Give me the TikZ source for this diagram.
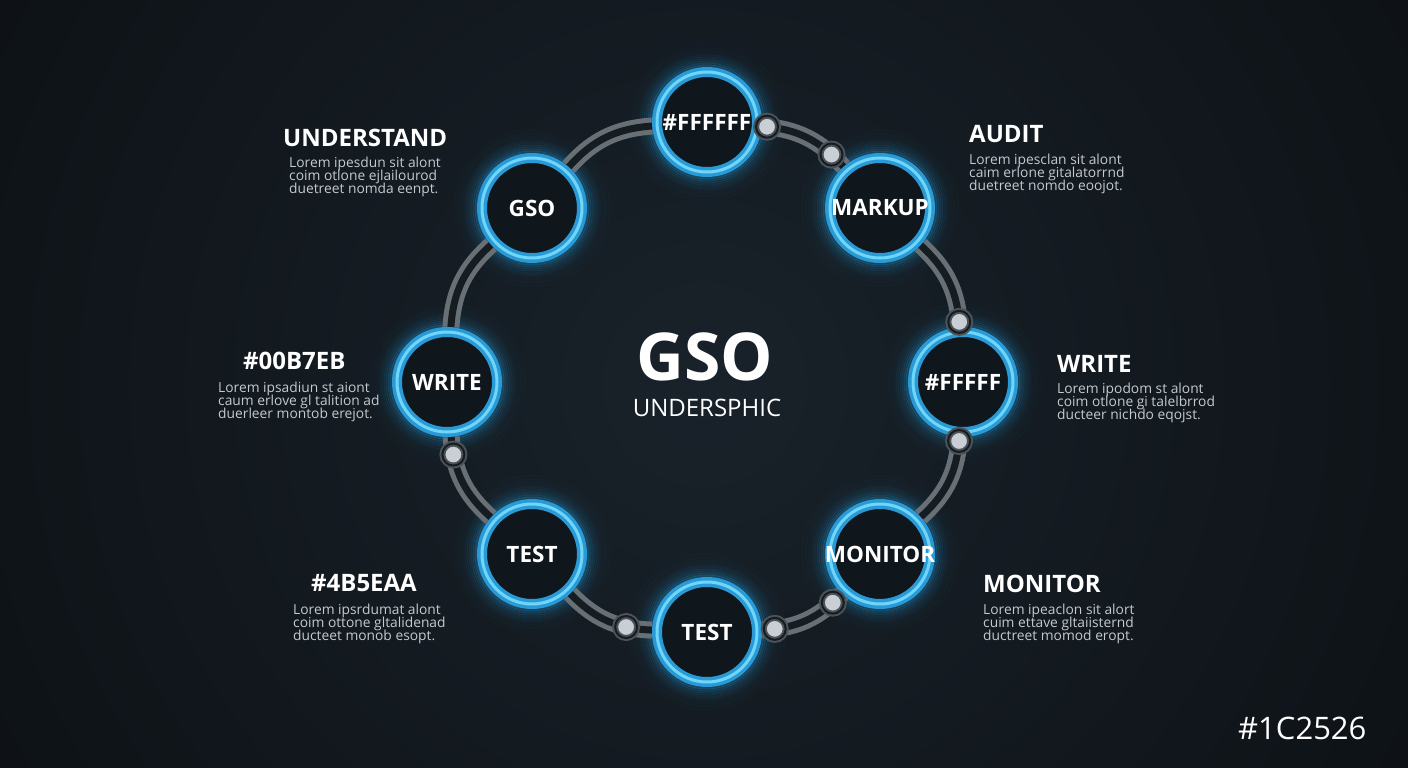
\documentclass[tikz,border=0pt]{standalone}
\usepackage{fontspec}
\setmainfont{Open Sans}
\definecolor{bgmid}{HTML}{19222A}
\definecolor{bgedge}{HTML}{0C1014}
\definecolor{ringblue}{HTML}{2A9AD6}
\definecolor{ringlight}{HTML}{6FD6FA}
\definecolor{glowc}{HTML}{1FA3E8}
\definecolor{trackc}{HTML}{687076}
\definecolor{trackgap}{HTML}{151C22}
\definecolor{dotfill}{HTML}{C9CFD4}
\definecolor{dotring}{HTML}{4B5359}
\definecolor{bodytext}{HTML}{C4CACE}
\definecolor{nodefill}{HTML}{0F161C}
\pgfdeclarelayer{back}
\pgfdeclarelayer{tracks}
\pgfsetlayers{back,tracks,main}
\newcommand{\lbl}[1]{\makebox[0pt]{#1}}
\newcommand{\tightlines}{\lineskiplimit=-20pt\relax}
\begin{document}
\begin{tikzpicture}[x=1pt,y=-1pt,
  stage/.style={circle, minimum size=100pt, inner sep=0pt, fill=nodefill,
    draw=ringblue, line width=10pt, postaction={draw=ringlight, line width=3pt},
    text=white, font=\bfseries\fontsize{22.5}{22.5}\selectfont},
  track/.style={draw=trackc, line width=5pt, double=trackgap, double distance=7pt},
  railstop/.style={circle, minimum size=22pt, inner sep=0pt, fill=dotfill,
    draw=dotring, line width=2pt, double=trackgap, double distance=2pt},
  head/.style={text=white, inner sep=0pt, anchor=base west,
    font=\bfseries\fontsize{24}{24}\selectfont},
  % multi-line blurb, anchored at the baseline of its last line
  body/.style={text=bodytext, inner sep=0pt, anchor=base west, align=left,
    font=\fontsize{13.8}{13}\selectfont\tightlines},
]
\useasboundingbox (0,0) rectangle (1408,768);

% background
\begin{pgfonlayer}{back}
  \fill[bgedge] (0,0) rectangle (1408,768);
  \fill[inner color=bgmid, outer color=bgedge] (704,384) circle[radius=900pt];
\end{pgfonlayer}

% stage positions
\coordinate (p1) at (707,122);
\coordinate (p2) at (880,208);
\coordinate (p3) at (963,382);
\coordinate (p4) at (880,554);
\coordinate (p5) at (707,632);
\coordinate (p6) at (532,554);
\coordinate (p7) at (447,382);
\coordinate (p8) at (532,208);

% soft halo around each ring
\begin{pgfonlayer}{back}
  \foreach \c in {p1,p2,p3,p4,p5,p6,p7,p8}{
    \foreach \r/\o in {56/0.30,58/0.22,60/0.16,62/0.12,64/0.09,66/0.07,68/0.05,71/0.035,74/0.025,78/0.015}
      \draw[glowc, line width=2.5pt, opacity=\o] (\c) circle[radius=\r pt];
  }
\end{pgfonlayer}

% stages
\node[stage] (n1) at (p1) {\lbl{\#FFFFFF}};
\node[stage] (n2) at (p2) {\lbl{MARKUP}};
\node[stage] (n3) at (p3) {\lbl{\#FFFFF}};
\node[stage] (n4) at (p4) {\lbl{MONITOR}};
\node[stage] (n5) at (p5) {\lbl{TEST}};
\node[stage] (n6) at (p6) {\lbl{TEST}};
\node[stage] (n7) at (p7) {\lbl{WRITE}};
\node[stage] (n8) at (p8) {\lbl{GSO}};

% rails joining the stages
\begin{pgfonlayer}{tracks}
  \draw[track] (n1) to[bend left=22] coordinate[pos=0.05] (d1) coordinate[pos=0.83] (d2) (n2);
  \draw[track] (n2) to[bend left=22] coordinate[pos=0.95] (d3) (n3);
  \draw[track] (n3) to[bend left=22] coordinate[pos=0.04] (d4) (n4);
  \draw[track] (n4) to[bend left=22] coordinate[pos=0.13] (d5) coordinate[pos=0.87] (d6) (n5);
  \draw[track] (n5) to[bend left=22] coordinate[pos=0.27] (d7) (n6);
  \draw[track] (n6) to[bend left=22] coordinate[pos=0.82] (d8) (n7);
  \draw[track] (n7) to[bend left=22] (n8);
  \draw[track] (n8) to[bend left=22] (n1);
\end{pgfonlayer}

% stops on the rails
\foreach \d in {d1,d2,d3,d4,d5,d6,d7,d8}
  \node[railstop] (stop-\d) at (\d) {};

% centre title
\node[text=white, inner sep=0pt, anchor=base, font=\bfseries\fontsize{66}{66}\selectfont] (title) at (705,380) {GSO};
\node[text=white, inner sep=0pt, anchor=base, font=\fontsize{24}{24}\selectfont] (subtitle) at (707,416) {UNDERSPHIC};

% side descriptions
\node[head] (h1) at (283,146) {UNDERSTAND};
\node[body] (b1) at (289,193) {Lorem ipesdun sit alont\\coim otlone ejlailourod\\duetreet nomda eenpt.};

\node[head] (h2) at (969,142) {AUDIT};
\node[body] (b2) at (969,190) {Lorem ipesclan sit alont\\caim erlone gitalatorrnd\\duetreet nomdo eoojot.};

\node[head] (h3) at (243,369) {\#00B7EB};
\node[body] (b3) at (218,418) {Lorem ipsadiun st aiont\\caum erlove gl talition ad\\duerleer montob erejot.};

\node[head] (h4) at (1057,372) {WRITE};
\node[body] (b4) at (1057,419) {Lorem ipodom st alont\\coim otlone gi talelbrrod\\ducteer nichdo eqojst.};

\node[head] (h5) at (311,591) {\#4B5EAA};
\node[body] (b5) at (293,640) {Lorem ipsrdumat alont\\coim ottone gltalidenad\\ducteet monob esopt.};

\node[head] (h6) at (983,592) {MONITOR};
\node[body] (b6) at (983,640) {Lorem ipeaclon sit alort\\cuim ettave gltaiisternd\\ductreet momod eropt.};

\node[text=white, inner sep=0pt, anchor=base west, font=\fontsize{31}{31}\selectfont] (code) at (1238,739) {\#1C2526};
\end{tikzpicture}
\end{document}
